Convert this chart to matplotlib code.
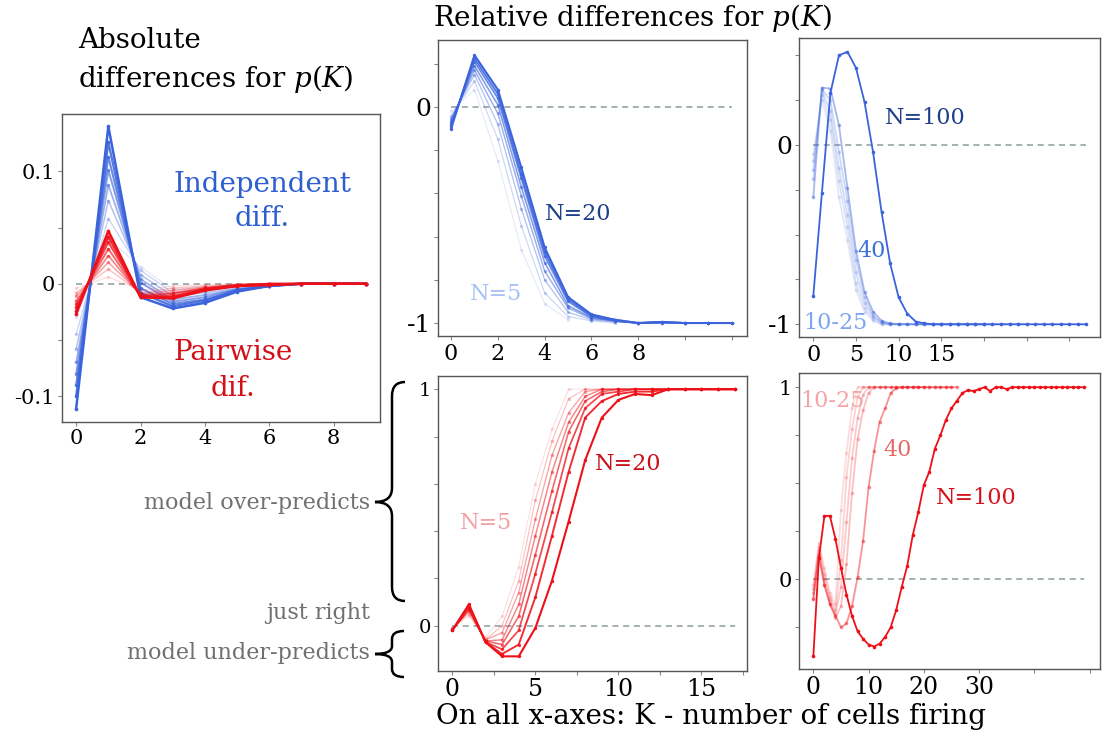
import numpy as np
import matplotlib
matplotlib.use('Agg')
import matplotlib.pyplot as plt
from matplotlib.path import Path
from matplotlib.patches import PathPatch

plt.rcParams['font.family'] = 'DejaVu Serif'
plt.rcParams['mathtext.fontset'] = 'dejavuserif'

W, H = 1102, 735

# ---------------- data ----------------
# absolute differences, N = 5..20, K = 0..9
abs_n = [5, 7, 9, 11, 13, 15, 17, 20]
abs_indep = [
    [-0.030, 0.040, 0.015, -0.005, -0.003, -0.001],
    [-0.045, 0.058, 0.012, -0.008, -0.006, -0.003, -0.001, 0.000],
    [-0.058, 0.074, 0.008, -0.011, -0.008, -0.004, -0.001, 0.000, 0.000, 0.000],
    [-0.070, 0.088, 0.004, -0.014, -0.010, -0.005, -0.002, 0.000, 0.000, 0.000],
    [-0.080, 0.101, 0.001, -0.016, -0.012, -0.005, -0.002, 0.000, 0.000, 0.000],
    [-0.090, 0.113, -0.004, -0.018, -0.014, -0.006, -0.002, 0.000, 0.000, 0.000],
    [-0.100, 0.126, -0.008, -0.020, -0.015, -0.006, -0.002, 0.000, 0.000, 0.000],
    [-0.111, 0.140, -0.012, -0.022, -0.017, -0.007, -0.002, 0.000, 0.000, 0.000],
]
abs_pair = [
    [-0.004, 0.006, -0.006, -0.002, -0.001, 0.000],
    [-0.008, 0.013, -0.008, -0.004, -0.002, -0.001, 0.000, 0.000],
    [-0.011, 0.019, -0.009, -0.006, -0.003, -0.001, 0.000, 0.000, 0.000, 0.000],
    [-0.015, 0.025, -0.010, -0.008, -0.004, -0.001, 0.000, 0.000, 0.000, 0.000],
    [-0.018, 0.031, -0.011, -0.009, -0.004, -0.001, 0.000, 0.000, 0.000, 0.000],
    [-0.021, 0.037, -0.011, -0.011, -0.005, -0.002, 0.000, 0.000, 0.000, 0.000],
    [-0.024, 0.042, -0.012, -0.012, -0.005, -0.002, -0.001, 0.000, 0.000, 0.000],
    [-0.027, 0.047, -0.012, -0.013, -0.006, -0.002, -0.001, 0.000, 0.000, 0.000],
]

# relative differences, small networks (N = 5..20)
rel_indep_small = [
    [-0.02, 0.08, -0.25, -0.66, -0.91, -0.985],
    [-0.04, 0.12, -0.15, -0.55, -0.86, -0.97, -0.99, -1.00],
    [-0.05, 0.15, -0.08, -0.47, -0.80, -0.95, -0.985, -0.995, -1.00, -1.00],
    [-0.06, 0.17, -0.03, -0.41, -0.76, -0.93, -0.98, -0.99, -1.00, -1.00, -1.00, -1.00],
    [-0.07, 0.19, 0.01, -0.37, -0.72, -0.92, -0.975, -0.99, -1.00, -1.00, -1.00, -1.00, -1.00],
    [-0.08, 0.21, 0.04, -0.33, -0.69, -0.90, -0.97, -0.99, -1.00, -0.995, -1.00, -1.00, -1.00],
    [-0.09, 0.225, 0.06, -0.31, -0.67, -0.89, -0.965, -0.985, -1.00, -0.995, -1.00, -1.00, -1.00],
    [-0.10, 0.24, 0.08, -0.28, -0.65, -0.88, -0.96, -0.985, -1.00, -0.995, -1.00, -1.00, -1.00],
]
rel_pair_small = [
    [-0.01, 0.04, -0.05, 0.04, 0.25, 0.60, 0.83, 1.00, 1.00, 1.00, 1.00, 1.00, 1.00, 1.00, 1.00, 1.00, 1.00, 1.00],
    [-0.01, 0.05, -0.06, 0.00, 0.19, 0.53, 0.78, 0.96, 1.00, 1.00, 1.00, 1.00, 1.00, 1.00, 1.00, 1.00, 1.00, 1.00],
    [-0.015, 0.06, -0.06, -0.03, 0.14, 0.45, 0.72, 0.90, 0.99, 1.00, 1.00, 1.00, 1.00, 1.00, 1.00, 1.00, 1.00, 1.00],
    [-0.015, 0.065, -0.065, -0.06, 0.09, 0.38, 0.65, 0.86, 0.97, 1.00, 1.00, 1.00, 1.00, 1.00, 1.00, 1.00, 1.00, 1.00],
    [-0.02, 0.07, -0.065, -0.08, 0.04, 0.30, 0.57, 0.82, 0.95, 0.99, 1.00, 1.00, 1.00, 1.00, 1.00, 1.00, 1.00, 1.00],
    [-0.02, 0.08, -0.07, -0.10, -0.02, 0.22, 0.48, 0.75, 0.92, 0.98, 0.99, 1.00, 1.00, 1.00, 1.00, 1.00, 1.00, 1.00],
    [-0.02, 0.085, -0.07, -0.12, -0.08, 0.12, 0.38, 0.65, 0.88, 0.95, 0.98, 0.99, 0.99, 1.00, 1.00, 1.00, 1.00, 1.00],
    [-0.02, 0.09, -0.07, -0.13, -0.13, -0.01, 0.19, 0.44, 0.70, 0.88, 0.955, 0.98, 0.975, 1.00, 1.00, 1.00, 1.00, 1.00],
]

# relative differences, larger networks (N = 10, 15, 20, 25, 40, 100)
big_n = [10, 15, 20, 25, 40, 100]
rel_indep_big = [
    [-0.05, 0.25, 0.08, -0.29, -0.53, -0.81, -0.93, -0.98, -1.00, -1.00, -1.00],
    [-0.09, 0.28, 0.14, -0.20, -0.46, -0.77, -0.91, -0.97, -1.00, -1.00, -1.00, -1.00, -1.00, -1.00, -1.00, -1.00],
    [-0.14, 0.30, 0.19, -0.13, -0.39, -0.71, -0.88, -0.96, -0.99, -1.00, -1.00, -1.00, -1.00, -1.00, -1.00,
     -1.00, -1.00, -1.00, -1.00, -1.00, -1.00],
    [-0.19, 0.31, 0.25, -0.04, -0.31, -0.64, -0.85, -0.95, -0.99, -1.00, -1.00, -1.00, -1.00, -1.00, -1.00,
     -1.00, -1.00, -1.00, -1.00, -1.00, -1.00, -1.00, -1.00, -1.00, -1.00, -1.00],
    [-0.29, 0.32, 0.315, 0.11, -0.24, -0.59, -0.82, -0.93, -0.98, -0.995, -1.00, -1.00, -1.00, -1.00, -1.00,
     -1.00, -1.00, -1.00, -1.00, -1.00, -1.00],
    [-0.84, -0.27, 0.29, 0.50, 0.52, 0.43, 0.24, -0.04, -0.375, -0.66, -0.85, -0.94, -0.985, -0.995, -1.00,
     -1.00, -1.00, -1.00, -1.00, -1.00, -1.00, -1.00, -1.00, -1.00, -1.00, -1.00, -1.00, -1.00, -1.00,
     -1.00, -1.00, -1.00, -1.00],
]
rel_pair_big = [
    [-0.03, 0.19, 0.06, -0.07, -0.13, 0.36, 0.66, 0.89, 1.00, 1.00, 1.00],
    [-0.05, 0.17, 0.03, -0.09, -0.16, 0.10, 0.53, 0.78, 0.95, 1.00, 1.00, 1.00, 1.00, 1.00, 1.00, 1.00],
    [-0.07, 0.15, 0.00, -0.11, -0.18, -0.04, 0.30, 0.63, 0.84, 0.96, 1.00, 1.00, 1.00, 1.00, 1.00,
     1.00, 1.00, 1.00, 1.00, 1.00, 1.00],
    [-0.10, 0.13, -0.03, -0.13, -0.20, -0.14, 0.08, 0.45, 0.73, 0.88, 0.97, 1.00, 1.00, 1.00, 1.00,
     1.00, 1.00, 1.00, 1.00, 1.00, 1.00, 1.00, 1.00, 1.00, 1.00, 1.00],
    [-0.10, 0.12, -0.03, -0.13, -0.19, -0.25, -0.23, -0.14, 0.01, 0.20, 0.48, 0.67, 0.82, 0.89, 0.97,
     0.995, 1.00, 1.00, 1.00, 1.00, 1.00, 1.00, 1.00, 1.00, 1.00, 1.00, 1.00],
    [-0.40, 0.11, 0.33, 0.33, 0.21, 0.06, -0.08, -0.19, -0.27, -0.31,
     -0.34, -0.35, -0.335, -0.30, -0.25, -0.16, -0.04, 0.07, 0.23, 0.35,
     0.49, 0.56, 0.68, 0.75, 0.83, 0.89, 0.93, 0.97, 0.985, 0.98,
     0.99, 1.00, 0.98, 1.00, 1.00, 0.99, 1.00, 1.00, 1.00, 1.00,
     1.00, 1.00, 1.00, 1.00, 1.00, 1.00, 1.00, 1.00, 1.00, 1.00],
]
big_alpha = [0.14, 0.18, 0.22, 0.26, 0.45, 1.0]

BLUE = '#3b63db'
RED = '#ee1018'
ZERO = '#8c9c9c'


def px_axes(fig, left, top, right, bottom):
    return fig.add_axes([left / W, 1 - bottom / H, (right - left) / W, (bottom - top) / H])


def px_text(fig, x, y, s, **kw):
    kw.setdefault('va', 'center')
    fig.text(x / W, 1 - y / H, s, **kw)


def style(ax, xticks, xlabels, yticks, ylabels, xfs, yfs):
    for sp in ax.spines.values():
        sp.set_color('#555555')
        sp.set_linewidth(1.0)
    ax.set_xticks(xticks)
    ax.set_xticklabels(xlabels, fontsize=xfs)
    ax.set_yticks(yticks)
    ax.set_yticklabels(ylabels, fontsize=yfs)
    ax.tick_params(length=3, width=0.8, color='#888888', pad=2)


def family(ax, curves, color, a0=0.15, lw0=0.8, lw1=1.8, ms=2.6):
    n = len(curves)
    for i, c in enumerate(curves):
        f = i / (n - 1)
        ax.plot(np.arange(len(c)), c, '-o', color=color, alpha=a0 + (1 - a0) * f,
                lw=lw0 + (lw1 - lw0) * f, ms=ms, mew=0)


def zero_line(ax, kmax):
    ax.hlines(0, 0, kmax, colors=ZERO, linestyles=(0, (4, 3)), lw=1.1, zorder=0)


def brace(fig, x_line, x_end, x_tip, y_top, y_mid, y_bot, r=10):
    pts = [(x_end, y_top), (x_line, y_top), (x_line, y_top + r),
           (x_line, y_mid - r), (x_line, y_mid), (x_tip, y_mid),
           (x_line, y_mid), (x_line, y_mid + r),
           (x_line, y_bot - r), (x_line, y_bot), (x_end, y_bot)]
    codes = [Path.MOVETO, Path.CURVE3, Path.CURVE3,
             Path.LINETO, Path.CURVE3, Path.CURVE3,
             Path.CURVE3, Path.CURVE3,
             Path.LINETO, Path.CURVE3, Path.CURVE3]
    verts = [(x / W, 1 - y / H) for x, y in pts]
    fig.patches.append(PathPatch(Path(verts, codes), transform=fig.transFigure,
                                 fill=False, lw=1.8, color='black'))


fig = plt.figure(figsize=(W / 100, H / 100), dpi=100)

# ---- panel A: absolute differences ----
axA = px_axes(fig, 62, 114, 380, 422)
zero_line(axA, 9)
family(axA, abs_indep, BLUE)
family(axA, abs_pair, RED)
axA.set_xlim(-0.44, 9.44)
axA.set_ylim(-0.123, 0.151)
style(axA, [0, 2, 4, 6, 8], ['0', '2', '4', '6', '8'],
      [-0.1, -0.05, 0, 0.05, 0.1], ['-0.1', '', '0', '', '0.1'], 15, 15)
px_text(fig, 262, 184, 'Independent', ha='center', color='#2e5fd0', fontsize=20)
px_text(fig, 262, 218, 'diff.', ha='center', color='#2e5fd0', fontsize=20)
px_text(fig, 233, 353, 'Pairwise', ha='center', color='#d40f18', fontsize=20)
px_text(fig, 233, 388, 'dif.', ha='center', color='#d40f18', fontsize=20)

# ---- panel B: relative, independent, small N ----
axB = px_axes(fig, 438, 40, 747, 336)
zero_line(axB, 12)
family(axB, rel_indep_small, BLUE, lw0=0.7, lw1=1.5, ms=2.4)
axB.set_xlim(-0.56, 12.65)
axB.set_ylim(-1.06, 0.31)
style(axB, [0, 2, 4, 6, 8, 10, 12], ['0', '2', '4', '6', '8', '', ''],
      [-1, -0.8, -0.6, -0.4, -0.2, 0, 0.2], ['-1', '', '', '', '', '0', ''], 16, 18)
px_text(fig, 545, 214, 'N=20', color='#1f3f8a', fontsize=16)
px_text(fig, 470, 294, 'N=5', color='#a9c3f4', fontsize=16)

# ---- panel C: relative, independent, larger N ----
axC = px_axes(fig, 799, 38, 1100, 337)
zero_line(axC, 32)
for c, a in zip(rel_indep_big, big_alpha):
    axC.plot(np.arange(len(c)), c, '-o', color=BLUE, alpha=a, lw=1.3, ms=2.6, mew=0)
axC.set_xlim(-1.68, 33.6)
axC.set_ylim(-1.071, 0.597)
style(axC, [0, 5, 10, 15, 20, 25, 30], ['0', '5', '10', '15', '', '', ''],
      [-1, -0.75, -0.5, -0.25, 0, 0.25, 0.5], ['-1', '', '', '', '0', '', ''], 16, 18)
px_text(fig, 885, 118, 'N=100', color='#1f3f8a', fontsize=16)
px_text(fig, 857, 251, '40', color='#3b6fd8', fontsize=16)
px_text(fig, 803, 323, '10-25', color='#7ea6ef', fontsize=16)

# ---- panel D: relative, pairwise, small N ----
axD = px_axes(fig, 438, 376, 747, 671)
zero_line(axD, 17)
family(axD, rel_pair_small, RED, lw0=0.7, lw1=1.5, ms=2.4)
axD.set_xlim(-0.86, 17.74)
axD.set_ylim(-0.192, 1.056)
style(axD, [0, 2.5, 5, 7.5, 10, 12.5, 15, 17.5], ['0', '', '5', '', '10', '', '15', ''],
      [0, 0.2, 0.4, 0.6, 0.8, 1.0], ['0', '', '', '', '', '1'], 17, 14)
px_text(fig, 595, 464, 'N=20', color='#c8101a', fontsize=16)
px_text(fig, 460, 523, 'N=5', color='#f2a3a3', fontsize=16)

# ---- panel E: relative, pairwise, larger N ----
axE = px_axes(fig, 799, 373, 1100, 669)
zero_line(axE, 49)
for c, a in zip(rel_pair_big, big_alpha):
    axE.plot(np.arange(len(c)), c, '-o', color=RED, alpha=a, lw=1.3, ms=2.6, mew=0)
axE.set_xlim(-2.6, 51.9)
axE.set_ylim(-0.467, 1.074)
style(axE, [0, 10, 20, 30, 40, 50], ['0', '10', '20', '30', '', ''],
      [-0.25, 0, 0.25, 0.5, 0.75, 1.0], ['', '0', '', '', '', '1'], 17, 15)
px_text(fig, 800, 401, '10-25', color='#f4a6a6', fontsize=16)
px_text(fig, 883, 450, '40', color='#e46a6a', fontsize=16)
px_text(fig, 936, 498, 'N=100', color='#d4111a', fontsize=16)

# ---- titles and annotations ----
px_text(fig, 78, 41, 'Absolute', fontsize=20)
px_text(fig, 78, 79, r'differences for $p(K)$', fontsize=20)
px_text(fig, 433, 18, r'Relative differences for $p(K)$', fontsize=20)
px_text(fig, 711, 716, 'On all x-axes: K - number of cells firing', ha='center', fontsize=20)

GRAY = '#707070'
px_text(fig, 370, 503, 'model over-predicts', ha='right', color=GRAY, fontsize=16)
px_text(fig, 370, 613, 'just right', ha='right', color=GRAY, fontsize=16)
px_text(fig, 370, 653, 'model under-predicts', ha='right', color=GRAY, fontsize=16)
brace(fig, 392, 405, 375, 382, 502, 601, r=14)
brace(fig, 392, 404, 375, 631, 654, 677, r=8)

fig.savefig('out.png', dpi=100)
